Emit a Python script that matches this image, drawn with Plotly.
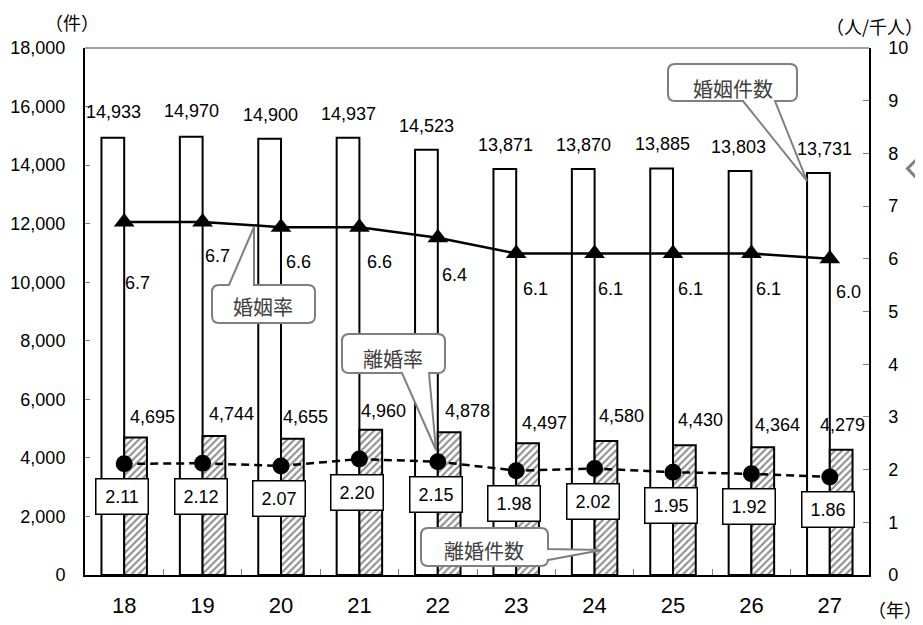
import plotly.graph_objects as go

# ---------------- data ----------------
years = ["18", "19", "20", "21", "22", "23", "24", "25", "26", "27"]
marriages = [14933, 14970, 14900, 14937, 14523, 13871, 13870, 13885, 13803, 13731]
divorces = [4695, 4744, 4655, 4960, 4878, 4497, 4580, 4430, 4364, 4279]
marriage_rate = [6.7, 6.7, 6.6, 6.6, 6.4, 6.1, 6.1, 6.1, 6.1, 6.0]
divorce_rate = [2.11, 2.12, 2.07, 2.20, 2.15, 1.98, 2.02, 1.95, 1.92, 1.86]
left_ticks = list(range(0, 18001, 2000))
right_ticks = list(range(0, 11))

# ---------------- layout geometry (screen pixels) ----------------
OFF = 8                      # page body margin of the browser
W, H = 923 - OFF, 625 - OFF  # figure size
L, R, T, B = 85, 869, 48, 575  # plot area in screen pixels
PW, PH = R - L, B - T
BAR_HALF = 11.3

# label pixel offsets (layout only)
m_lab_dx = [1, 0, 1, 0, 0, 1, 0, 1, -2, 6]
m_lab_dy = [26, 26, 24, 24, 24, 24, 24, 24, 24, 24]
d_lab_dx = [17, 18, 13, 13, 18, 17, 16, 16, 15, 1]
d_lab_dy = [21, 22, 22, 19, 21, 20, 25, 25, 22, 25]
mr_lab_dx = [13, 15, 17, 20, 17, 19, 16, 17, 17, 19]
mr_lab_dy = [61, 34, 35, 35, 37, 35, 35, 35, 35, 33]

FONT = "Liberation Sans, Arial, Noto Sans CJK JP"
JFONT = "Noto Sans CJK JP, Liberation Sans"


def px(x, y):
    return ((x - L) / PW, (B - y) / PH)


def pstr(x, y):
    X, Y = px(x, y)
    return f"{X:.5f},{Y:.5f}"


def callout(x0, y0, x1, y1, side, a, b, tip, r=7):
    s = [f"M {pstr(x0 + r, y0)}"]
    if side == "top":
        s += [f"L {pstr(*a)}", f"L {pstr(*tip)}", f"L {pstr(*b)}"]
    s += [f"L {pstr(x1 - r, y0)}", f"Q {pstr(x1, y0)} {pstr(x1, y0 + r)}"]
    if side == "right":
        s += [f"L {pstr(*a)}", f"L {pstr(*tip)}", f"L {pstr(*b)}"]
    s += [f"L {pstr(x1, y1 - r)}", f"Q {pstr(x1, y1)} {pstr(x1 - r, y1)}"]
    if side == "bottom":
        s += [f"L {pstr(*b)}", f"L {pstr(*tip)}", f"L {pstr(*a)}"]
    s += [f"L {pstr(x0 + r, y1)}", f"Q {pstr(x0, y1)} {pstr(x0, y1 - r)}"]
    s += [f"L {pstr(x0, y0 + r)}", f"Q {pstr(x0, y0)} {pstr(x0 + r, y0)}", "Z"]
    return dict(type="path", xref="paper", yref="paper", path=" ".join(s),
                fillcolor="white", line=dict(color="#7f7f7f", width=2), layer="above")


fig = go.Figure()

fig.add_trace(go.Bar(
    x=years, y=marriages, name="婚姻件数",
    marker=dict(color="white", line=dict(color="black", width=2)),
))
fig.add_trace(go.Bar(
    x=years, y=divorces, name="離婚件数",
    marker=dict(color="white", line=dict(color="black", width=2),
                pattern=dict(shape="/", fgcolor="#222222", bgcolor="white",
                             size=5, solidity=0.42)),
))
fig.add_trace(go.Scatter(
    x=years, y=marriage_rate, yaxis="y2", mode="lines+markers", name="婚姻率",
    line=dict(color="black", width=2.5),
    marker=dict(symbol="triangle-up", size=18, color="black"),
))
fig.add_trace(go.Scatter(
    x=years, y=divorce_rate, yaxis="y2", mode="lines+markers", name="離婚率",
    line=dict(color="black", width=2.5, dash="8px,5px"),
    marker=dict(symbol="circle", size=17, color="black"),
))

ann = []
C = dict(xanchor="center", yanchor="middle", showarrow=False)
for i, yr in enumerate(years):
    ann.append(dict(x=i, y=marriages[i], xref="x", yref="y", text=f"{marriages[i]:,}",
                    xshift=-BAR_HALF + m_lab_dx[i], yshift=m_lab_dy[i],
                    font=dict(size=18, color="black", family=FONT), **C))
    ann.append(dict(x=i, y=divorces[i], xref="x", yref="y", text=f"{divorces[i]:,}",
                    xshift=BAR_HALF + d_lab_dx[i], yshift=d_lab_dy[i],
                    font=dict(size=18, color="black", family=FONT), **C))
    ann.append(dict(x=i, y=marriage_rate[i], xref="x", yref="y2", text=f"{marriage_rate[i]:.1f}",
                    xshift=mr_lab_dx[i], yshift=-mr_lab_dy[i],
                    font=dict(size=18, color="black", family=FONT), **C))
    ann.append(dict(x=i, y=divorce_rate[i], xref="x", yref="y2", text=f"{divorce_rate[i]:.2f}",
                    xshift=-2, yshift=-33, width=47, height=30,
                    bgcolor="white", bordercolor="black", borderwidth=1.5, borderpad=2,
                    font=dict(size=18, color="black", family=FONT), **C))

# callout texts
for (tx, ty, txt) in [(733, 88, "婚姻件数"), (263, 306, "婚姻率"),
                      (393, 358, "離婚率"), (484, 550, "離婚件数")]:
    X, Y = px(tx, ty)
    ann.append(dict(x=X, y=Y, xref="paper", yref="paper", text=txt,
                    font=dict(size=20, color="#404040", family=JFONT), **C))

# axis unit titles
for (tx, ty, txt) in [(72, 22, "（件）"), (874, 26, "（人/千人）"), (895, 609, "（年）")]:
    X, Y = px(tx, ty)
    ann.append(dict(x=X, y=Y, xref="paper", yref="paper", text=txt,
                    font=dict(size=18, color="black", family=JFONT), **C))

shapes = [
    dict(type="line", xref="paper", yref="paper", x0=0, x1=1, y0=1, y1=1,
         line=dict(color="#808080", width=1.5)),
    callout(668, 64, 797, 101, "bottom", (743, 101), (775, 101), (807, 181)),
    callout(212, 285, 315, 323, "top", (229, 285), (254, 285), (254, 227)),
    callout(342, 334, 445, 373, "bottom", (402, 373), (429, 373), (436, 450)),
    callout(421, 528, 548, 566, "right", (548, 549), (548, 560), (602, 550)),
    dict(type="path", xref="paper", yref="paper",
         path=f"M {pstr(924, 152)} L {pstr(907.5, 168.5)} L {pstr(924, 186)}",
         line=dict(color="#7f7f7f", width=3), layer="above"),
]

fig.update_layout(
    width=W, height=H, autosize=False,
    margin=dict(l=L - OFF, r=923 - R, t=T - OFF, b=625 - B, pad=0, autoexpand=False),
    paper_bgcolor="white", plot_bgcolor="white",
    showlegend=False,
    barmode="group", bargap=0.42, bargroupgap=0,
    font=dict(family=FONT, size=18, color="black"),
    xaxis=dict(type="category", showline=True, linecolor="black", linewidth=2,
               ticks="inside", tickson="boundaries", ticklen=6, tickcolor="#808080",
               tickfont=dict(size=22), ticklabelstandoff=10, showgrid=False,
               range=[-0.5, 9.5], automargin=False),
    yaxis=dict(range=[0, 18000], tickvals=left_ticks, ticktext=[f"{v:,}" for v in left_ticks],
               showline=True, linecolor="black", linewidth=2, ticks="inside", ticklen=5,
               tickcolor="#808080", showgrid=False, zeroline=False,
               tickfont=dict(size=18), ticklabelstandoff=14, automargin=False),
    yaxis2=dict(range=[0, 10], tickvals=right_ticks, overlaying="y", side="right",
                showline=True, linecolor="black", linewidth=1.5, ticks="inside", ticklen=6,
                tickcolor="#808080", showgrid=False, zeroline=False,
                tickfont=dict(size=18), ticklabelstandoff=14, automargin=False),
    annotations=ann,
    shapes=shapes,
)

fig.write_html("out.html")
